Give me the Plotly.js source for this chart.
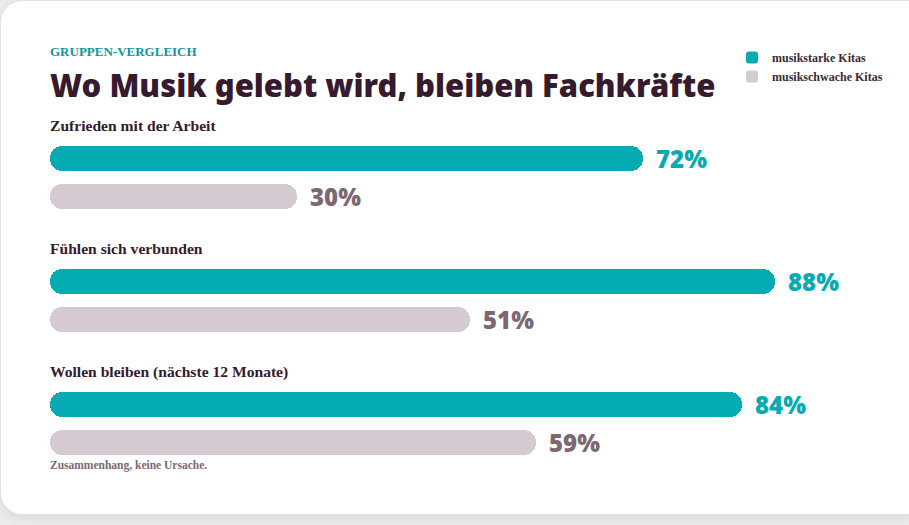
<!DOCTYPE html>
<html>
<head>
<meta charset="utf-8">
<script src="https://cdn.plot.ly/plotly-3.0.1.min.js"></script>
<style>
  html, body { margin: 0; padding: 0; width: 909px; height: 525px; overflow: hidden; background: #eceaeb; }
  #card { position: absolute; left: 0; top: 0; width: 930px; height: 513px; background: #fff;
          border: 1px solid #e4dfe2; border-radius: 22px; box-shadow: 0 3px 8px rgba(60, 40, 55, 0.08); }
  #chart { position: absolute; left: 0; top: 0; width: 909px; height: 525px; }
</style>
</head>
<body>
<div id="card"></div>
<div id="chart"></div>
<script>
// Survey groups and results (share of staff, %)
const categories = ['Zufrieden mit der Arbeit', 'Fühlen sich verbunden', 'Wollen bleiben (nächste 12 Monate)'];
const seriesNames = ['musikstarke Kitas', 'musikschwache Kitas'];
const strongValues = [72, 88, 84];
const weakValues = [30, 51, 59];

const eyebrow = 'GRUPPEN-VERGLEICH';
const headline = 'Wo Musik gelebt wird, bleiben Fachkräfte';
const footnote = 'Zusammenhang, keine Ursache.';

// Styling
const TEAL = '#05abb2';
const MAUVE = '#d5cad1';
const MAUVE_TEXT = '#7b6873';
const INK = '#361a2e';
const SERIF = 'Liberation Serif, Times New Roman, serif';
const DISPLAY = 'Noto Sans, Inter, sans-serif';

// Geometry: 38 px per bar row, 8.24 px per percentage point
const ROW_PX = 38;
const GROUP_STEP = 123 / ROW_PX;   // distance between question groups, in rows
const BAR_W = 25 / ROW_PX;         // bar thickness, in rows
const PLOT_W = 909 - 50 - 4;
const X_MAX = PLOT_W / 8.24;
const PLOT_TOP = 30, PLOT_BOTTOM = 460, ZERO_PX = 158.5;

const series = [
  { name: seriesNames[0], values: strongValues, color: TEAL, text: TEAL, row: 0 },
  { name: seriesNames[1], values: weakValues, color: MAUVE, text: MAUVE_TEXT, row: 1 }
];

const traces = [];
const annotations = [];

series.forEach(s => {
  const ys = categories.map((_, i) => i * GROUP_STEP + s.row);
  // Each pill is two overlapping halves so that both ends get rounded caps:
  // the right half rounds at the value, the left half rounds at zero.
  traces.push({
    type: 'bar', orientation: 'h', name: s.name, legendgroup: s.name, showlegend: true,
    y: ys, base: s.values.map(v => v * 0.4), x: s.values.map(v => v * 0.6),
    width: BAR_W, marker: { color: s.color, cornerradius: '50%', line: { width: 0 } },
    hoverinfo: 'skip'
  });
  traces.push({
    type: 'bar', orientation: 'h', name: s.name, legendgroup: s.name, showlegend: false,
    y: ys, base: s.values.map(v => v * 0.6), x: s.values.map(v => -v * 0.6),
    width: BAR_W, marker: { color: s.color, cornerradius: '50%', line: { width: 0 } },
    hoverinfo: 'skip'
  });
  s.values.forEach((v, i) => {
    annotations.push({
      xref: 'x', yref: 'y', x: v, y: ys[i], xanchor: 'left', yanchor: 'middle',
      xshift: 11, showarrow: false, text: v + '%',
      font: { family: DISPLAY, size: 24, weight: 900, color: s.text }
    });
  });
});

categories.forEach((c, i) => {
  annotations.push({
    xref: 'paper', yref: 'y', x: 0, y: i * GROUP_STEP, xanchor: 'left', yanchor: 'middle',
    xshift: -2, yshift: 33, showarrow: false, text: c,
    font: { family: SERIF, size: 15.6, weight: 700, color: INK }
  });
});

const pxToPaperY = p => (PLOT_BOTTOM - p) / (PLOT_BOTTOM - PLOT_TOP);

annotations.push({
  xref: 'paper', yref: 'paper', x: 0, y: pxToPaperY(52), xanchor: 'left', yanchor: 'middle',
  xshift: -2, showarrow: false, text: eyebrow,
  font: { family: SERIF, size: 13, weight: 700, color: '#0f979c' }
});
annotations.push({
  xref: 'paper', yref: 'paper', x: 0, y: pxToPaperY(465), xanchor: 'left', yanchor: 'middle',
  xshift: -2, showarrow: false, text: footnote,
  font: { family: SERIF, size: 11.5, weight: 700, color: MAUVE_TEXT }
});

const layout = {
  width: 909, height: 525, autosize: false,
  margin: { l: 50, r: 909 - 50 - PLOT_W, t: PLOT_TOP, b: 525 - PLOT_BOTTOM },
  paper_bgcolor: 'rgba(0,0,0,0)', plot_bgcolor: 'rgba(0,0,0,0)',
  barmode: 'overlay', bargap: 0, bargroupgap: 0,
  title: {
    text: headline, xref: 'container', yref: 'container',
    x: 50 / 909, xanchor: 'left', y: 1 - 86 / 525, yanchor: 'middle',
    font: { family: DISPLAY, size: 31, weight: 900, color: INK }
  },
  xaxis: { range: [0, X_MAX], visible: false, fixedrange: true },
  yaxis: {
    range: [(PLOT_BOTTOM - ZERO_PX) / ROW_PX, (PLOT_TOP - ZERO_PX) / ROW_PX],
    visible: false, fixedrange: true
  },
  showlegend: true,
  legend: {
    x: (732 - 50) / PLOT_W, y: pxToPaperY(43),
    xanchor: 'left', yanchor: 'top', bgcolor: 'rgba(0,0,0,0)',
    font: { family: SERIF, size: 12, weight: 700, color: '#3a2a35' },
    tracegroupgap: 1, traceorder: 'normal'
  },
  annotations: annotations
};

Plotly.newPlot('chart', traces, layout, { displayModeBar: false });
</script>
</body>
</html>
